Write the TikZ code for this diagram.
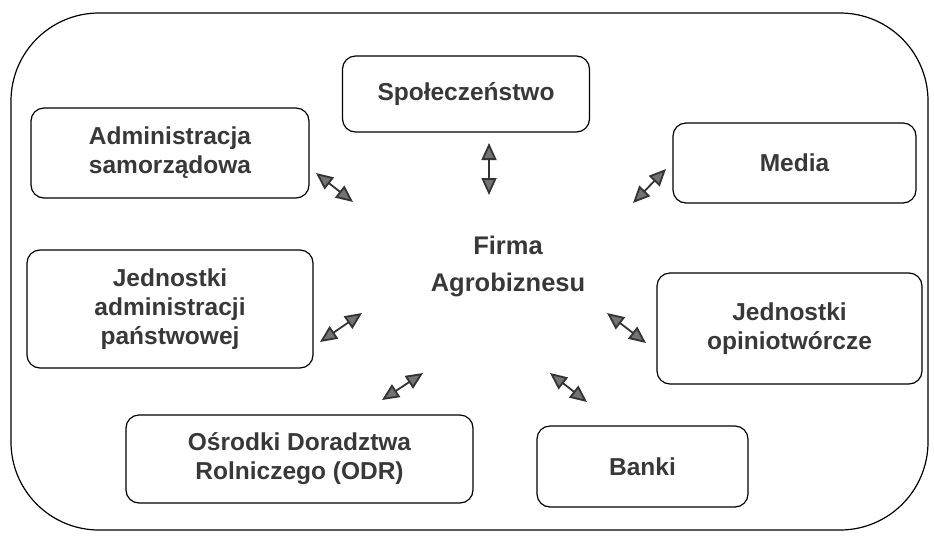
\documentclass[tikz,border=0pt]{standalone}
\usepackage{fontspec}
\setmainfont{Liberation Sans}
\usetikzlibrary{arrows.meta}

\begin{document}
\begin{tikzpicture}[x=1pt, y=-1pt,
    box/.style={draw=black, line width=1.2pt, rounded corners=13pt,
      align=center, font=\bfseries\fontsize{24.5}{29}\selectfont,
      text=black!78, inner sep=0pt},
    dbl/.style={line width=1.8pt, draw=black!80,
      {Triangle[length=17pt, width=15pt, fill=black!55]}-{Triangle[length=17pt, width=15pt, fill=black!55]}}]

    \useasboundingbox (0,0) rectangle (934,539);

    \draw[line width=1.2pt, rounded corners=88pt] (11,13) rectangle (928,530);

    \node[box, minimum width=247pt, minimum height=76pt] (spol) at (466,94) {Społeczeństwo};

    \node[box, minimum width=278pt, minimum height=90pt] (samorz) at (170,153) {Administracja\\samorządowa};

    \node[box, minimum width=243pt, minimum height=80pt] (media) at (794.5,163) {Media};

    \node[box, minimum width=286pt, minimum height=118pt] (panstw) at (170,309) {Jednostki\\administracji\\państwowej};

    \node[box, minimum width=265pt, minimum height=111pt] (opinio) at (789.5,328.5) {Jednostki\\opiniotwórcze};

    \node[box, minimum width=347pt, minimum height=88pt] (odr) at (299.5,459) {Ośrodki Doradztwa\\Rolniczego (ODR)};

    \node[box, minimum width=211pt, minimum height=81pt] (banki) at (642.5,466.5) {Banki};

    \node[align=center, text=black!78, font=\bfseries\fontsize{25.5}{37}\selectfont] (firma) at (508,266) {Firma\\Agrobiznesu};

    % arrows round the centre
    \coordinate (samorz-a) at (316,173);
    \coordinate (samorz-b) at (353,202);
    \coordinate (spol-a) at (489,143);
    \coordinate (spol-b) at (489,195);
    \coordinate (media-a) at (666,169);
    \coordinate (media-b) at (633,203);
    \coordinate (panstw-a) at (320,342);
    \coordinate (panstw-b) at (362,313);
    \coordinate (opinio-a) at (646,343);
    \coordinate (opinio-b) at (607,313);
    \coordinate (odr-a) at (382,400);
    \coordinate (odr-b) at (423,373);
    \coordinate (banki-a) at (587,402);
    \coordinate (banki-b) at (550,373);

    \draw[dbl] (samorz-a) -- (samorz-b);
    \draw[dbl] (spol-a) -- (spol-b);
    \draw[dbl] (media-a) -- (media-b);
    \draw[dbl] (panstw-a) -- (panstw-b);
    \draw[dbl] (opinio-a) -- (opinio-b);
    \draw[dbl] (odr-a) -- (odr-b);
    \draw[dbl] (banki-a) -- (banki-b);

\end{tikzpicture}
\end{document}
